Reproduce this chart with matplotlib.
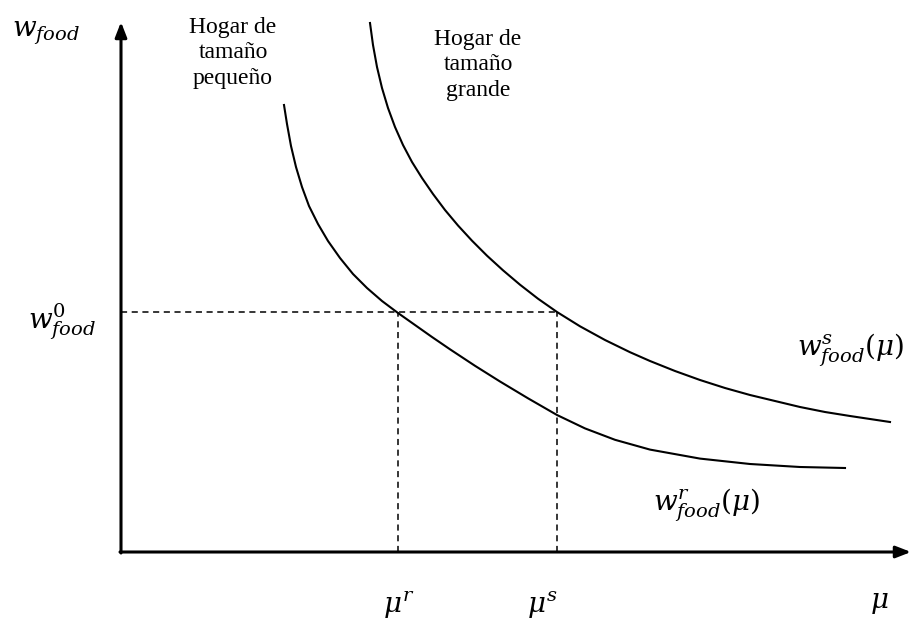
import numpy as np
import matplotlib
matplotlib.use("Agg")
from matplotlib import pyplot as plt

# Curve points (mu, w), origin at the axes corner
mu_small = [163, 166, 170, 175, 181, 188, 197, 207, 219, 232, 246, 261, 277, 294, 311, 329,
            354, 379, 407, 436, 464, 494, 529, 579, 629, 679, 724]
w_small = [447, 428, 406, 385, 365, 346, 328, 311, 294, 278, 264, 251, 239, 227, 215, 202.7,
           186.2, 170.5, 153.7, 137, 123.6, 112.2, 102.4, 93.4, 88, 85, 84]

mu_large = [249, 252, 256, 261, 267, 274, 282, 291, 301, 312, 324, 337, 351, 366, 382, 399,
            417, 436, 459, 484, 509, 529, 554, 579, 604, 629, 654, 679, 704, 729, 749, 769]
w_large = [529, 507, 485, 464, 444, 425, 407, 390, 374, 358, 342, 326.5, 311.3, 296.3, 281.7, 267.3,
           253.3, 240, 225.7, 212, 199.8, 191, 181, 172, 164, 157, 151, 145, 140, 136, 133, 130]

# Reference levels
w0 = 240
mu_r = 277
mu_s = 436

# Axis extents
x_end = 790
y_end = 530

plt.rcParams['mathtext.fontset'] = 'dejavuserif'

fig = plt.figure(figsize=(9.09, 6.19), dpi=100)
ax = fig.add_axes([0, 0, 1, 1])
ax.set_xlim(-121, 788)
ax.set_ylim(-67, 552)
ax.axis('off')

# Axes with arrow heads
arrow = dict(arrowstyle='-|>,head_length=0.9,head_width=0.35', color='black', lw=2.2,
             shrinkA=0, shrinkB=0)
ax.annotate('', xy=(0, y_end), xytext=(0, -1), arrowprops=arrow, annotation_clip=False)
ax.annotate('', xy=(x_end, 0), xytext=(-1, 0), arrowprops=arrow, annotation_clip=False)

# Curves
ax.plot(mu_small, w_small, color='black', lw=1.5)
ax.plot(mu_large, w_large, color='black', lw=1.5)

# Dashed guides
ax.plot([0, mu_s], [w0, w0], color='black', lw=1.1, dashes=(4, 3))
ax.plot([mu_r, mu_r], [0, w0], color='black', lw=1.1, dashes=(4, 3))
ax.plot([mu_s, mu_s], [0, w0], color='black', lw=1.1, dashes=(4, 3))

# Labels
ms = 20
ax.text(-109, 519, r'$w_{food}$', fontsize=ms, ha='left', va='center')
ax.text(-93, 230, r'$w^{0}_{food}$', fontsize=ms, ha='left', va='center')
ax.text(676, 202, r'$w^{s}_{food}(\mu)$', fontsize=ms, ha='left', va='center')
ax.text(532, 47, r'$w^{r}_{food}(\mu)$', fontsize=ms, ha='left', va='center')
ax.text(mu_r + 1, -52, r'$\mu^{r}$', fontsize=ms, ha='center', va='center')
ax.text(mu_s - 15, -52, r'$\mu^{s}$', fontsize=ms, ha='center', va='center')
ax.text(758, -50, r'$\mu$', fontsize=ms, ha='center', va='center')

serif = ['Liberation Serif', 'DejaVu Serif']
ax.text(112, 499, 'Hogar de\ntamaño\npequeño', fontsize=17, family=serif,
        ha='center', va='center', linespacing=1.3)
ax.text(357, 487, 'Hogar de\ntamaño\ngrande', fontsize=17, family=serif,
        ha='center', va='center', linespacing=1.3)

fig.savefig('out.png', dpi=100)
